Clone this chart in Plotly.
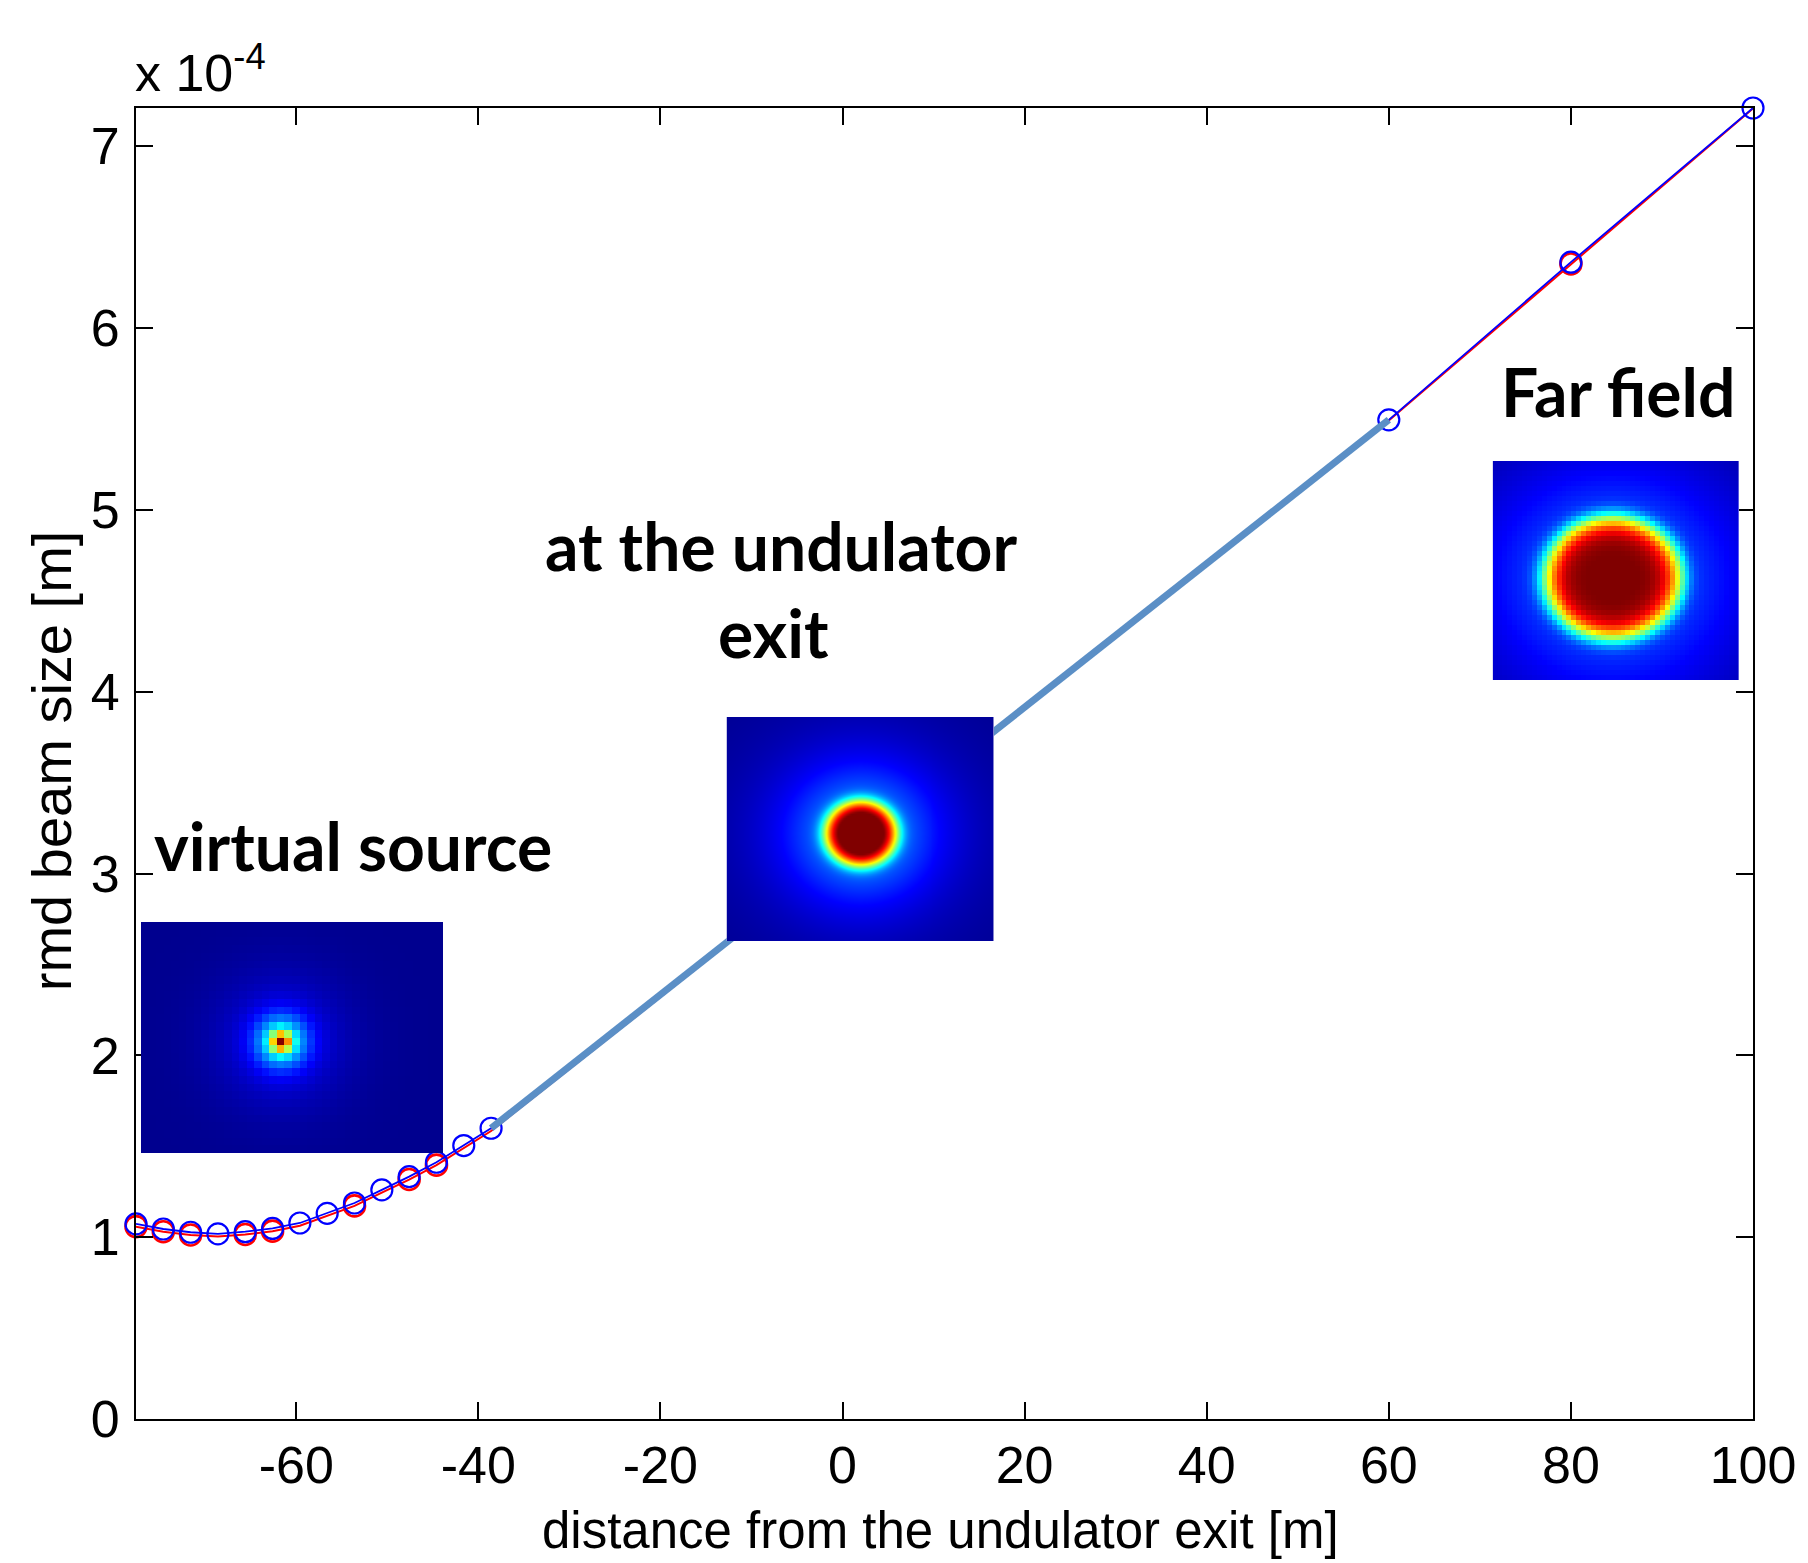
import numpy as np
import plotly.graph_objects as go

# ---------------- data ----------------
distance_m = [-77.6, -74.6, -71.6, -68.6, -65.6, -62.6, -59.6, -56.6, -53.6,
              -50.6, -47.6, -44.6, -41.6, -38.6, 60.0, 80.0, 100.0]
size_blue_1e4 = [1.073, 1.045, 1.027, 1.018, 1.030, 1.048, 1.078, 1.131, 1.188,
                 1.260, 1.333, 1.412, 1.504, 1.599, 5.495, 6.362, 7.210]
size_red_1e4 = [1.058, 1.030, 1.012, 1.003, 1.015, 1.033, 1.063, 1.116, 1.172,
                1.245, 1.317, 1.396, 1.489, 1.584, 5.492, 6.352, 7.208]
red_marker_on = [1, 1, 1, 0, 1, 1, 0, 0, 1, 0, 1, 1, 0, 0, 0, 1, 0]
free_space_x = [-38.6, 60.0]
free_space_y_1e4 = [1.599, 5.495]

x_ticks = [-60, -40, -20, 0, 20, 40, 60, 80, 100]
x_tick_labels = ["-60", "-40", "-20", "0", "20", "40", "60", "80", "100"]
y_ticks_1e4 = [0, 1, 2, 3, 4, 5, 6, 7]
y_tick_labels = ["0", "1", "2", "3", "4", "5", "6", "7"]

# beam-profile insets: labels, grid sizes, profile components (weight, width px, exponent)
inset_labels = ["virtual source", "at the undulator exit", "Far field"]
inset_grid = [(40, 30), (134, 112), (50, 44)]
inset_profiles = [
    [(0.58, 9.5, 2.0), (0.32, 27.0, 2.0), (0.10, 66.0, 2.0)],
    [(0.82, 33.0, 4.5), (0.22, 68.0, 2.0), (0.08, 115.0, 2.0)],
    [(0.76, 62.0, 6.6), (0.25, 125.0, 2.0)],
]
inset_aspect = [1.0, 1.1, 1.12]

# ---------------- layout constants ----------------
FIG_W, FIG_H = 1808, 1563
L, R, T, B = 136, 51, 108, 144
PW, PH = FIG_W - L - R, FIG_H - T - B

def px_x(p):
    return (p - L) / PW

def px_y(p):
    return (T + PH - p) / PH

inset_box_px = [(141, 922, 444, 1153), (728, 717, 996, 941), (1496, 461, 1743, 680)]
inset_spot_shift_px = [(-10.8, -4.0), (0.0, -4.0), (-3.0, -7.5)]
inset_smooth = [False, "best", False]

jet = [[0.0, "rgb(0,0,143)"], [0.125, "rgb(0,0,255)"], [0.375, "rgb(0,255,255)"],
       [0.625, "rgb(255,255,0)"], [0.875, "rgb(255,0,0)"], [1.0, "rgb(128,0,0)"]]

scale = 1e-4
bx = distance_m
by = [v * scale for v in size_blue_1e4]
ry = [v * scale for v in size_red_1e4]

fig = go.Figure()

# red curve
fig.add_trace(go.Scatter(x=bx, y=ry, mode="lines", line=dict(color="#FF0000", width=2),
                         showlegend=False, hoverinfo="skip", cliponaxis=False))
fig.add_trace(go.Scatter(x=[x for x, m in zip(bx, red_marker_on) if m],
                         y=[y for y, m in zip(ry, red_marker_on) if m],
                         mode="markers",
                         marker=dict(symbol="circle-open", size=21, color="#FF0000",
                                     line=dict(width=2.6, color="#FF0000")),
                         showlegend=False, hoverinfo="skip", cliponaxis=False))
# blue curve
fig.add_trace(go.Scatter(x=bx, y=by, mode="lines+markers",
                         line=dict(color="#0000FF", width=1.8),
                         marker=dict(symbol="circle-open", size=21, color="#0000FF",
                                     line=dict(width=2.2, color="#0000FF")),
                         showlegend=False, hoverinfo="skip", cliponaxis=False))
# thick free-space line
fig.add_trace(go.Scatter(x=free_space_x, y=[v * scale for v in free_space_y_1e4],
                         mode="lines", line=dict(color="#5B8FC6", width=7),
                         showlegend=False, hoverinfo="skip", cliponaxis=False))

layout_axes = {}
for k, (box, (nx, ny), prof, asp, shift, sm) in enumerate(
        zip(inset_box_px, inset_grid, inset_profiles, inset_aspect,
            inset_spot_shift_px, inset_smooth)):
    x0, y0, x1, y1 = box
    wpx, hpx = x1 - x0, y1 - y0
    xc = (np.arange(nx) + 0.5) * wpx / nx - wpx / 2 - shift[0]
    yc = (np.arange(ny) + 0.5) * hpx / ny - hpx / 2 - shift[1]
    X, Y = np.meshgrid(xc, yc)
    r = np.sqrt((X / asp) ** 2 + Y ** 2)
    z = np.zeros_like(r)
    for a, w, p in prof:
        z += a * np.exp(-(r / w) ** p)
    z = np.clip(z, 0, 1)
    idx = k + 2
    fig.add_trace(go.Heatmap(z=z, colorscale=jet, zmin=0, zmax=1, showscale=False,
                             zsmooth=sm, hoverinfo="skip",
                             xaxis=f"x{idx}", yaxis=f"y{idx}"))
    layout_axes[f"xaxis{idx}"] = dict(domain=[px_x(x0), px_x(x1)], anchor=f"y{idx}",
                                      range=[-0.5, nx - 0.5], visible=False,
                                      showgrid=False, zeroline=False)
    layout_axes[f"yaxis{idx}"] = dict(domain=[px_y(y1), px_y(y0)], anchor=f"x{idx}",
                                      range=[-0.5, ny - 0.5], visible=False,
                                      showgrid=False, zeroline=False)

tick_font = dict(family="Liberation Sans, Arial, sans-serif", size=52, color="black")
label_font = dict(family="Lato, sans-serif", size=66, color="black", weight=700)

fig.update_layout(
    width=FIG_W, height=FIG_H,
    margin=dict(l=L, r=R, t=T, b=B, pad=0),
    paper_bgcolor="white", plot_bgcolor="white",
    xaxis=dict(domain=[0, 1], range=[min(bx), max(bx)], tickvals=x_ticks,
               ticktext=x_tick_labels,
               ticks="inside", ticklen=17, tickwidth=2, tickcolor="black",
               showline=True, linecolor="black", linewidth=2, mirror="allticks",
               showgrid=False, zeroline=False, tickfont=tick_font,
               ticklabelstandoff=0),
    yaxis=dict(domain=[0, 1], range=[0, max(by)],
               tickvals=[v * scale for v in y_ticks_1e4], ticktext=y_tick_labels,
               ticks="inside", ticklen=17, tickwidth=2, tickcolor="black",
               showline=True, linecolor="black", linewidth=2, mirror="allticks",
               showgrid=False, zeroline=False, tickfont=tick_font,
               ticklabelstandoff=4),
    **layout_axes,
)

ann = [
    dict(text="x 10<sup>-4</sup>", x=px_x(133), y=px_y(104), xanchor="left",
         yanchor="bottom", font=tick_font),
    dict(text="rmd beam size [m]", x=px_x(52), y=px_y(761), textangle=-90,
         xanchor="center", yanchor="middle", font=dict(tick_font, size=56)),
    dict(text="distance from the undulator exit [m]", x=px_x(942), y=px_y(1530),
         xanchor="center", yanchor="middle", font=dict(tick_font, size=51)),
    dict(text=inset_labels[0], x=px_x(354), y=px_y(845), xanchor="center",
         yanchor="middle", font=label_font),
    dict(text="at the undulator", x=px_x(783), y=px_y(545), xanchor="center",
         yanchor="middle", font=label_font),
    dict(text="exit", x=px_x(775), y=px_y(632), xanchor="center",
         yanchor="middle", font=label_font),
    dict(text=inset_labels[2], x=px_x(1622), y=px_y(392), xanchor="center",
         yanchor="middle", font=label_font),
]
for a in ann:
    a.update(xref="paper", yref="paper", showarrow=False)
fig.update_layout(annotations=ann)

fig.write_html("out.html")
